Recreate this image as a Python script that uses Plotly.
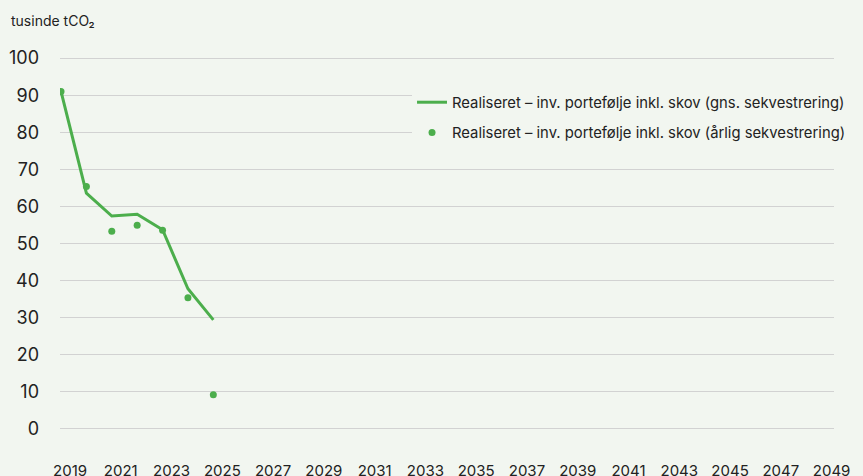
import plotly.graph_objects as go

years = [2019, 2020, 2021, 2022, 2023, 2024, 2025]
avg_seq = [91.0, 63.6, 57.4, 57.9, 53.7, 37.8, 29.4]
annual_seq = [91.0, 65.4, 53.3, 54.9, 53.6, 35.4, 9.2]
x_ticks = list(range(2019, 2050, 2))
y_ticks = list(range(0, 101, 10))

name_line = "Realiseret – inv. portefølje inkl. skov (gns. sekvestrering)"
name_dots = "Realiseret – inv. portefølje inkl. skov (årlig sekvestrering)"

green = "#4cae4c"
bg = "#f2f6f0"
font = "Inter, Roboto, sans-serif"

fig = go.Figure()
fig.add_trace(go.Scatter(x=years, y=avg_seq, mode="lines", name=name_line,
                         line=dict(color=green, width=3), legendgroup="a"))
fig.add_trace(go.Scatter(x=years, y=annual_seq, mode="markers", name=name_dots,
                         marker=dict(color=green, size=7), legendgroup="b"))

fig.update_layout(
    width=863, height=476,
    margin=dict(l=60, r=18, t=57, b=46),
    paper_bgcolor=bg, plot_bgcolor=bg,
    font=dict(family=font, color="#222222", size=16),
    showlegend=True,
    legend=dict(x=1.022, y=0.922, xanchor="right", yanchor="top",
                bgcolor=bg, font=dict(size=14.8, color="#222222"),
                tracegroupgap=8, traceorder="grouped"),
    xaxis=dict(range=[2018.96, 2049.45], tickvals=x_ticks,
               ticktext=[str(v) for v in x_ticks], showgrid=False,
               zeroline=False, showline=False, ticks="", automargin=False,
               ticklabelshift=9, ticklabelstandoff=30,
               tickfont=dict(size=15)),
    yaxis=dict(range=[-0.3, 100.3], tickvals=y_ticks, showgrid=True,
               gridcolor="#d2d2d2", gridwidth=1, zeroline=False,
               showline=False, ticks="", automargin=False,
               ticklabelstandoff=20, tickfont=dict(size=18)),
    annotations=[dict(text="tusinde tCO₂", xref="paper", yref="paper",
                      x=-0.066, y=1.07, xanchor="left", yanchor="bottom",
                      showarrow=False, font=dict(size=14, color="#222222"))],
)

post = ("document.body.style.margin='0';document.body.style.overflow='hidden';"
        "document.body.style.background='" + bg + "';")

fig.write_html("out.html", post_script=post, config={"displayModeBar": False})
